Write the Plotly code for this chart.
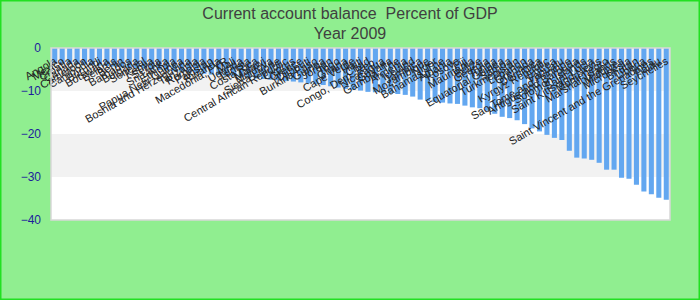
import plotly.graph_objects as go

countries = [
    "Angola", "Mexico", "Croatia", "Canada", "Cameroon", "Cambodia", "Burundi", "Botswana",
    "Belarus", "Benin", "Barbados", "Bulgaria", "Senegal", "Kenya", "Serbia", "Sri Lanka",
    "Ethiopia", "Papua New Guinea", "Bosnia and Herzegovina", "Tanzania", "Romania", "Pakistan",
    "Rwanda", "Macedonia, FYR", "Mali", "Uganda", "Tunisia", "Costa Rica", "Malawi", "Moldova",
    "Sierra Leone", "Central African Republic", "Cyprus", "Greece", "Djibouti", "Burkina Faso",
    "Guinea", "Jordan", "Togo", "Ghana", "Cape Verde", "Haiti", "Chad", "Congo, Dem. Rep.",
    "Nicaragua", "Guyana", "Gambia, The", "Armenia", "Iceland", "Jamaica", "Mozambique", "Niger",
    "Bahamas, The", "Albania", "Kosovo", "Fiji", "Mauritania", "Belize", "Georgia", "Tonga",
    "Equatorial Guinea", "Samoa", "Turkmenistan", "Lebanon", "Grenada", "Dominica",
    "Kyrgyz Republic", "Eritrea", "Vanuatu", "Sao Tome and Principe", "Antigua and Barbuda",
    "Solomon Islands", "Saint Lucia", "Saint Kitts and Nevis", "Montenegro", "Marshall Islands",
    "Maldives", "Micronesia", "Bhutan", "Liberia", "Saint Vincent and the Grenadines", "Palau",
    "Seychelles",
]

balance = [
    -3.5, -3.6, -3.7, -3.8, -3.9, -4.0, -4.1, -4.2, -4.3, -4.5,
    -4.6, -4.7, -4.8, -5.0, -5.1, -5.2, -5.4, -5.5, -5.7, -5.9,
    -6.0, -6.2, -6.3, -6.5, -6.6, -6.8, -6.9, -7.1, -7.2, -7.4,
    -7.5, -7.7, -7.8, -8.0, -8.2, -8.4, -8.6, -8.9, -9.2, -9.5,
    -9.7, -9.9, -10.2, -10.3, -10.4, -10.5, -10.7, -10.9, -11.3, -12.0,
    -12.3, -12.6, -12.7, -12.9, -13.0, -13.4, -13.8, -14.0, -14.6, -15.3,
    -16.0, -16.3, -16.8, -17.7, -18.7, -19.4, -20.2, -20.9, -21.4, -23.9,
    -25.5, -25.7, -26.0, -26.7, -28.3, -28.3, -30.2, -30.4, -31.8, -33.4,
    -34.0, -34.8, -35.3,
]

y_ticks = [0, -10, -20, -30, -40]
bands = [(0, -10), (-20, -30)]

W, H = 700, 300
ML, MR, MT, MB = 51, 30, 48, 80
PW, PH = W - ML - MR, H - MT - MB

fig = go.Figure(go.Bar(x=countries, y=balance, marker=dict(color="#63a7f0", line=dict(width=0))))

shapes = []
for a, b in bands:
    shapes.append(dict(type="rect", xref="paper", yref="y", x0=0, x1=1, y0=a, y1=b,
                       fillcolor="#f2f2f2", line=dict(width=0), layer="below"))
shapes.append(dict(type="rect", xref="paper", yref="paper", x0=0, x1=1, y0=0, y1=1,
                   line=dict(color="#d8d8d8", width=1.5), layer="above"))
shapes.append(dict(type="rect", xref="paper", yref="paper",
                   x0=(-ML + 0.5) / PW, x1=(PW + MR - 0.5) / PW,
                   y0=(-MB + 0.5) / PH, y1=(PH + MT - 0.5) / PH,
                   line=dict(color="#22e022", width=2)))

fig.update_layout(
    width=W, height=H,
    margin=dict(l=ML, r=MR, t=MT, b=MB, autoexpand=False),
    paper_bgcolor="#90ee90",
    plot_bgcolor="#ffffff",
    bargap=0.32,
    showlegend=False,
    title=dict(text="Current account balance  Percent of GDP<br>Year 2009",
               x=0.5, xanchor="center", y=0.938, yanchor="top",
               font=dict(family="Liberation Sans, Arial", size=16, color="#404040")),
    xaxis=dict(type="category", anchor="free", position=1, side="bottom",
               tickmode="linear", dtick=1, tickangle=-30, showgrid=False, showline=False,
               ticks="", zeroline=False, automargin=False,
               ticklabelstandoff=4,
               tickfont=dict(family="Liberation Sans, Arial", size=11, color="#222222")),
    yaxis=dict(range=[-40, 0], tickvals=y_ticks, showgrid=False, zeroline=False,
               showline=False, ticks="", ticklabelstandoff=9, automargin=False,
               tickfont=dict(family="Liberation Sans, Arial", size=12, color="#1c1c9c")),
    shapes=shapes,
)

fig.write_html("out.html")
